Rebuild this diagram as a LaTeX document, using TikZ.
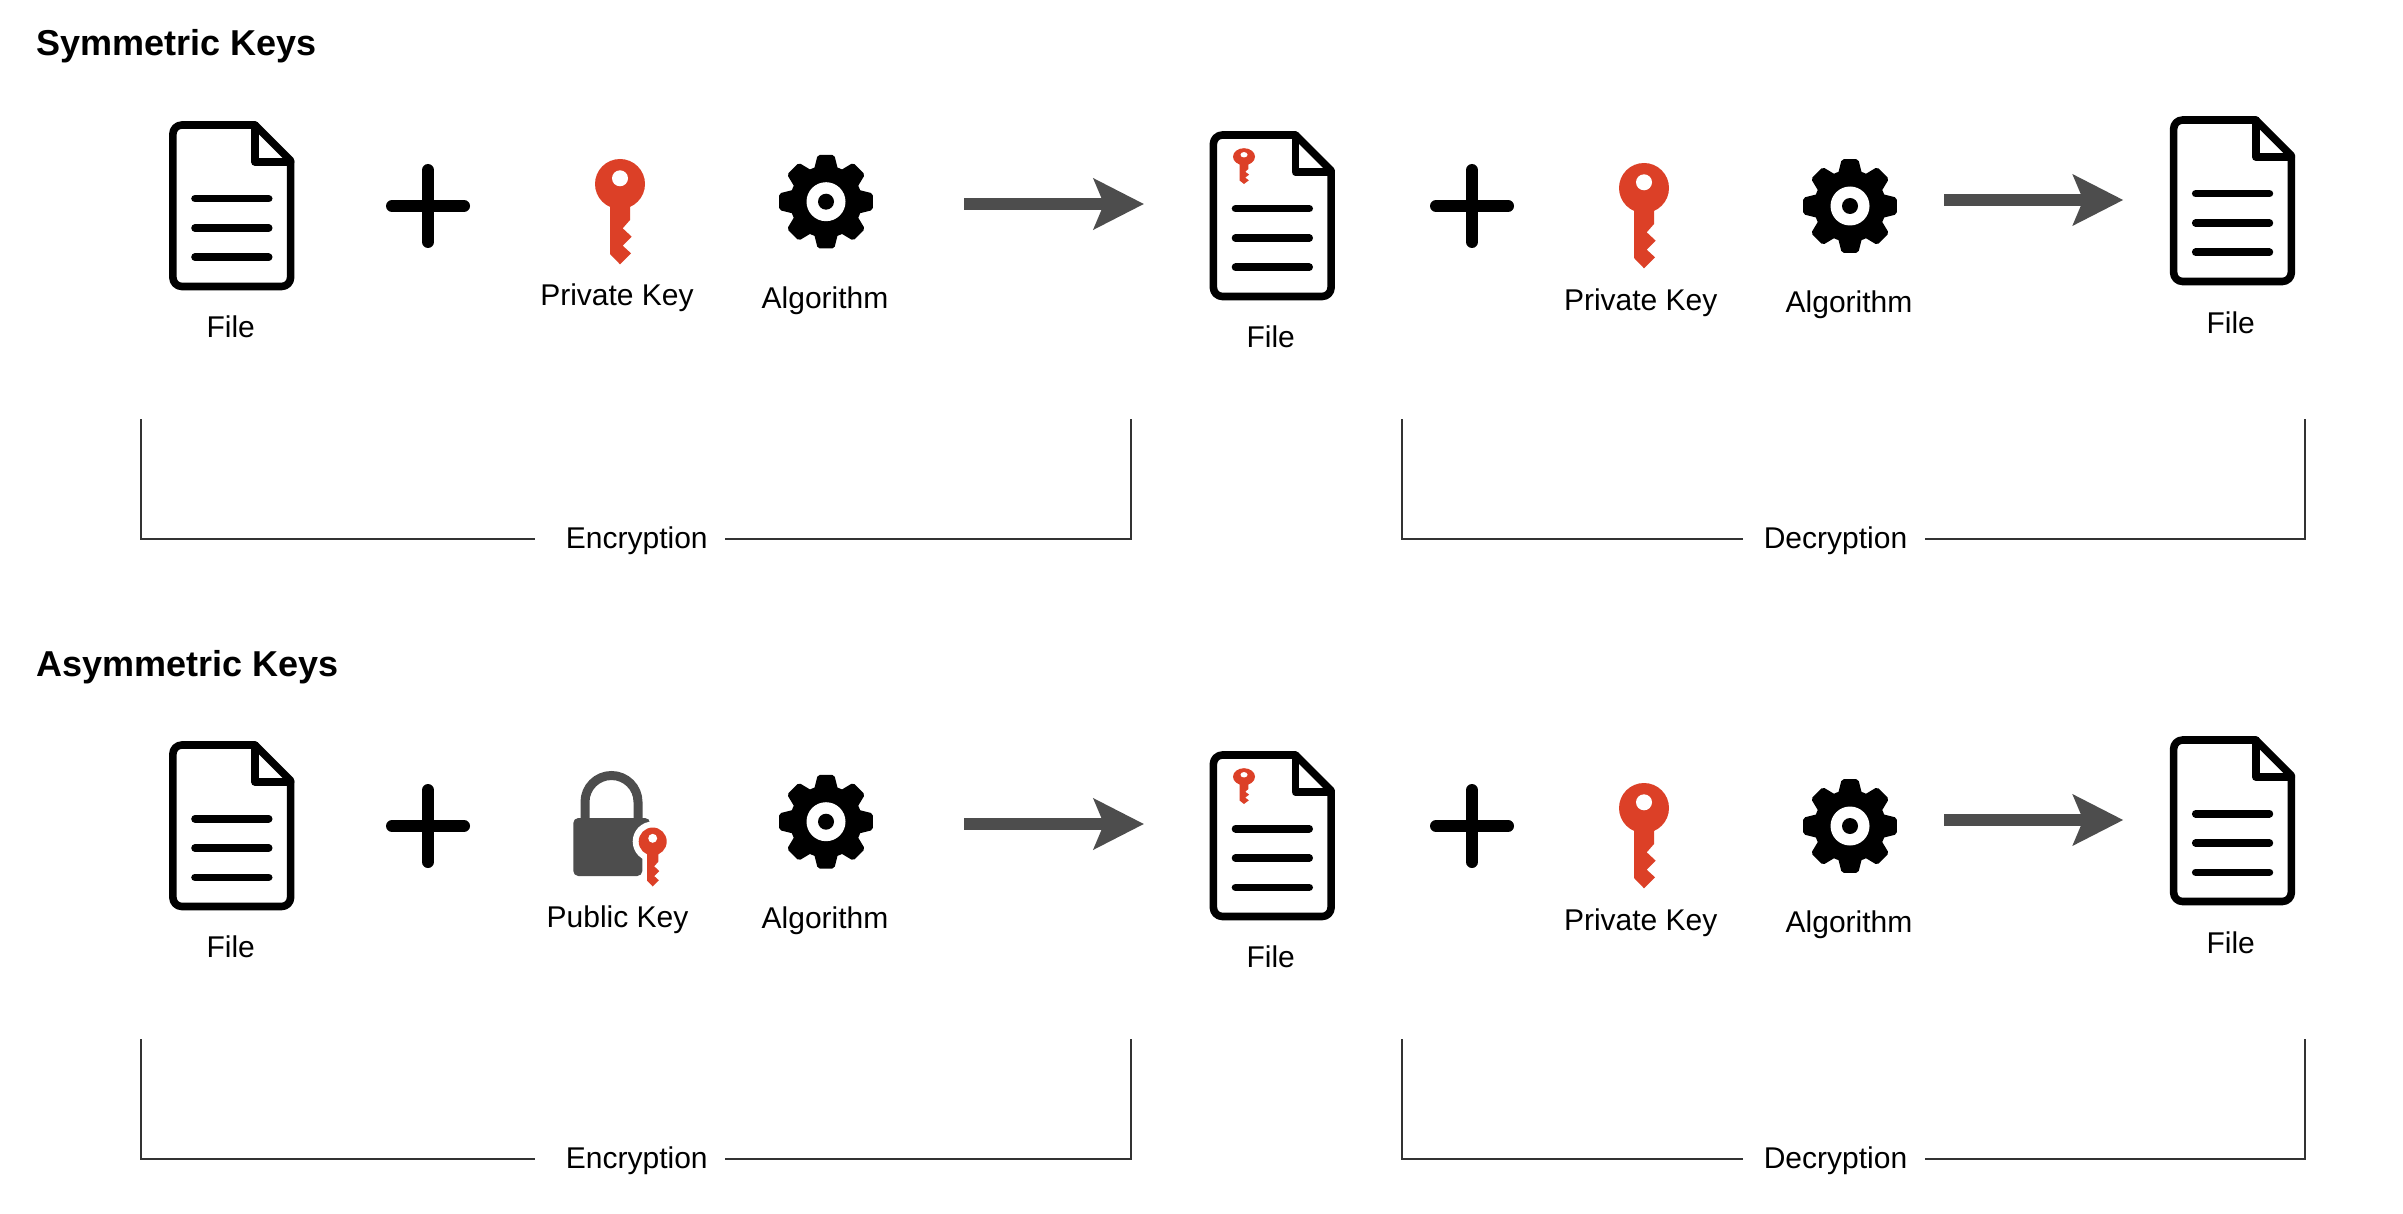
\documentclass[tikz,border=0pt]{standalone}
\usepackage{fontspec}
\setmainfont{Liberation Sans}
\usetikzlibrary{arrows.meta}
\definecolor{keyred}{HTML}{DC4027}
\definecolor{darkgrey}{HTML}{4D4D4D}
\definecolor{linegrey}{HTML}{333333}
\tikzset{
  lbl/.style={anchor=base,inner sep=0pt,font=\fontsize{15pt}{17pt}\selectfont,text=black},
  ttl/.style={anchor=base west,inner sep=0pt,font=\fontsize{18pt}{20pt}\selectfont\bfseries,text=black},
  docline/.style={draw=black,line width=3.8pt,line join=round,line cap=round},
  plusline/.style={draw=black,line width=6pt,line cap=round},
  bigarrow/.style={draw=darkgrey,fill=darkgrey,line width=6pt,-{Stealth[length=25pt,width=25pt,inset=5pt]}},
  bracket/.style={draw=linegrey,line width=1pt},
}
% file icon; #1,#2 = offset from the first icon
\newcommand{\fileicon}[2]{%
  \begin{scope}[shift={(#1,#2)}]
    \draw[docline] (255,125) -- (290.6,160.5) [rounded corners=4.5pt] -- (290.6,286.5) -- (172.9,286.5) -- (172.9,125) [sharp corners] -- (255,125) -- cycle;
    \draw[docline] (255,125) -- (255,162) -- (290.6,162);
    \draw[docline] (195,198.7) -- (268.7,198.7);
    \draw[docline] (195,228) -- (268.7,228);
    \draw[docline] (195,257.3) -- (268.7,257.3);
  \end{scope}}
% key icon centred on the head
\newcommand{\keyicon}[4]{%
  \begin{scope}[shift={(#1,#2)},xscale=#3,yscale=#4]
    \fill[keyred] (0,0) circle [radius=25];
    \fill[keyred] (-10,15) -- (10,15) -- (10,36) -- (2.7,44.3) -- (11.7,52.7) -- (2.7,61.7) -- (11,69.3) -- (0,80.3) -- (-10,70) -- cycle;
    \fill[white] (0,-5.7) circle [radius=8];
  \end{scope}}
\newcommand{\gearicon}[2]{%
  \begin{scope}[shift={(#1,#2)}]
    \fill[black] (0,0) circle [radius=36];
    \foreach \a in {0,45,...,315}{
      \fill[black,rotate=\a,rounded corners=1pt] (-12.5,-30) -- (-8.3,-46.8) -- (8.3,-46.8) -- (12.5,-30) -- cycle;
    }
    \fill[white] (0,0) circle [radius=19.5];
    \fill[black] (0,0) circle [radius=8];
  \end{scope}}
\newcommand{\plusicon}[2]{%
  \draw[plusline] (#1-36,#2) -- (#1+36,#2);
  \draw[plusline] (#1,#2-36) -- (#1,#2+36);}
% everything common to one row; #1 = name prefix, #2 = vertical offset
\newcommand{\diagramrow}[2]{%
  \begin{scope}[shift={(0,#2)}]
    \fileicon{0}{0}
    \node[lbl] (#1-file-a) at (230.7,337.7) {File};
    \plusicon{428}{206}
    \gearicon{826}{201.7}
    \node[lbl] (#1-alg-a) at (825,308.3) {Algorithm};
    \coordinate (#1-arr-a-s) at (964,204);
    \coordinate (#1-arr-a-e) at (1144,204);
    \draw[bigarrow] (#1-arr-a-s) -- (#1-arr-a-e);
    \fileicon{1040.5}{10}
    \keyicon{1244}{156.7}{0.44}{0.34}
    \node[lbl] (#1-file-b) at (1270.7,347.7) {File};
    \plusicon{1472}{206}
    \keyicon{1644}{188}{1}{1}
    \node[lbl] (#1-key-b) at (1640.7,310.5) {Private Key};
    \gearicon{1850}{206}
    \node[lbl] (#1-alg-b) at (1849,312.5) {Algorithm};
    \coordinate (#1-arr-b-s) at (1944,200);
    \coordinate (#1-arr-b-e) at (2123.3,200);
    \draw[bigarrow] (#1-arr-b-s) -- (#1-arr-b-e);
    \fileicon{2000.7}{-5}
    \node[lbl] (#1-file-c) at (2230.7,333.5) {File};
    % brackets
    \node[lbl] (#1-enc) at (636.8,548.3) {Encryption};
    \coordinate (#1-enc-tl) at (141.2,419);
    \coordinate (#1-enc-bl) at (141.2,538.7);
    \coordinate (#1-enc-gl) at (535,538.7);
    \coordinate (#1-enc-gr) at (725,538.7);
    \coordinate (#1-enc-br) at (1131,538.7);
    \coordinate (#1-enc-tr) at (1131,419);
    \draw[bracket] (#1-enc-tl) -- (#1-enc-bl) -- (#1-enc-gl);
    \draw[bracket] (#1-enc-gr) -- (#1-enc-br) -- (#1-enc-tr);
    \node[lbl] (#1-dec) at (1835.5,548.3) {Decryption};
    \coordinate (#1-dec-tl) at (1401.5,419);
    \coordinate (#1-dec-bl) at (1401.5,538.7);
    \coordinate (#1-dec-gl) at (1742.5,538.7);
    \coordinate (#1-dec-gr) at (1925,538.7);
    \coordinate (#1-dec-br) at (2305,538.7);
    \coordinate (#1-dec-tr) at (2305,419);
    \draw[bracket] (#1-dec-tl) -- (#1-dec-bl) -- (#1-dec-gl);
    \draw[bracket] (#1-dec-gr) -- (#1-dec-br) -- (#1-dec-tr);
  \end{scope}}
\begin{document}
\begin{tikzpicture}[x=0.5pt,y=-0.5pt]
  \path[use as bounding box,fill=white] (0,0) rectangle (2403,1214);
  \node[ttl] (title-sym) at (36,56) {Symmetric Keys};
  \node[ttl] (title-asym) at (36,676) {Asymmetric Keys};
  \diagramrow{sym}{0}
  \diagramrow{asym}{620}
  % first row: private key
  \keyicon{620}{184}{1}{1}
  \node[lbl] (sym-key-a) at (617,306) {Private Key};
  % second row: padlock with key
  \draw[draw=darkgrey,line width=4.5pt] (585,825) -- (585,802) arc[start angle=180,end angle=360,radius=26.5] -- (638,825);
  \fill[darkgrey,rounded corners=2.5pt] (573.3,818) -- (650,818) -- (650,845) -- (642.3,845) -- (642.3,876) -- (573.3,876) -- cycle;
  \fill[white] (652.7,841.5) circle [radius=20];
  \keyicon{652.7}{841.5}{0.56}{0.56}
  \node[lbl] (asym-key-a) at (617.5,927) {Public Key};
\end{tikzpicture}
\end{document}
